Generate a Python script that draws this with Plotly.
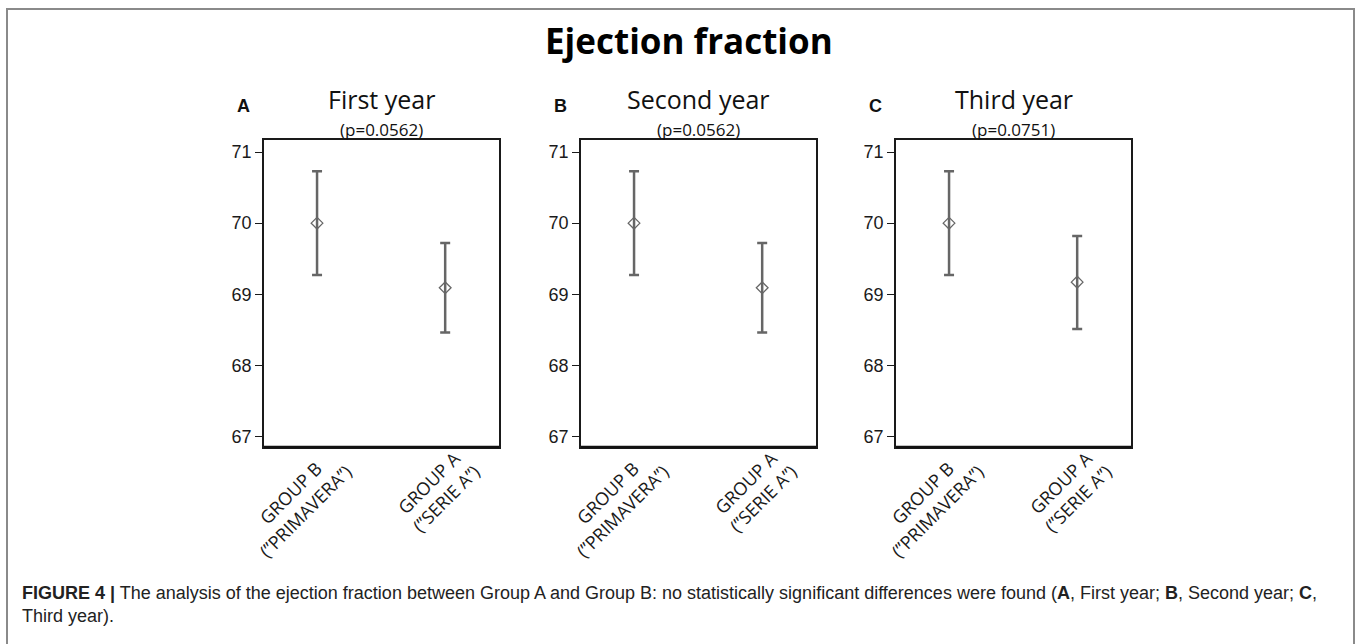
import plotly.graph_objects as go

W, H = 1357, 644

# ---- data ----
categories = ["GROUP B\u00a0\u00a0\u00a0\u00a0<br>(\u201dPRIMAVERA\u201d)", "GROUP A\u00a0<br>(\u201dSERIE A\u201d)"]
panel_letters = ["A", "B", "C"]
panel_titles = ["First year", "Second year", "Third year"]
p_values = ["(p=0.0562)", "(p=0.0562)", "(p=0.0751)"]
means = [[70.00, 69.09], [70.00, 69.09], [70.00, 69.17]]
ci_lower = [[69.27, 68.46], [69.27, 68.46], [69.27, 68.51]]
ci_upper = [[70.73, 69.72], [70.73, 69.72], [70.73, 69.82]]
y_ticks = [67, 68, 69, 70, 71]

main_title = "Ejection fraction"
caption_line1 = ("<b>FIGURE 4 |</b> The analysis of the ejection fraction between Group A and Group B: "
                 "no statistically significant differences were found (<b>A</b>, First year; "
                 "<b>B</b>, Second year; <b>C</b>,")
caption_line2 = "Third year)."

# ---- layout geometry (pixels) ----
panel_left = [264, 581, 896]
panel_w = 235
plot_top, plot_bottom = 140, 447


def px(x):
    return x / W


def py(y):
    return 1 - y / H


fig = go.Figure()
gray = "#666666"
annotations = []
shapes = []

for i in range(3):
    xa = "x" if i == 0 else f"x{i+1}"
    ya = "y" if i == 0 else f"y{i+1}"
    xs = [1, 2]
    up = [u - m for u, m in zip(ci_upper[i], means[i])]
    dn = [m - l for m, l in zip(means[i], ci_lower[i])]
    fig.add_trace(go.Scatter(
        x=xs, y=means[i], mode="markers", xaxis=xa, yaxis=ya, showlegend=False,
        marker=dict(symbol="diamond-open", size=9, color=gray, line=dict(width=1.3, color=gray)),
        error_y=dict(type="data", symmetric=False, array=up, arrayminus=dn,
                     color=gray, thickness=2.5, width=5),
    ))
    d0 = px(panel_left[i]); d1 = px(panel_left[i] + panel_w)
    axis_common = dict(showline=True, mirror=True, linecolor="#1a1a1a", linewidth=1.5,
                       showgrid=False, zeroline=False, automargin=False)
    fig.update_layout(**{
        ("xaxis" if i == 0 else f"xaxis{i+1}"): dict(
            domain=[d0, d1], range=[0.586, 2.42], tickvals=xs, ticktext=categories,
            tickangle=-45, ticks="", anchor=ya, ticklabelshift=13, ticklabelstandoff=-11,
            tickfont=dict(family="Open Sans", size=18, color="#1a1a1a"), **axis_common),
        ("yaxis" if i == 0 else f"yaxis{i+1}"): dict(
            domain=[py(plot_bottom), py(plot_top)], range=[66.85, 71.17], tickvals=y_ticks,
            ticks="outside", ticklen=7, tickwidth=1.3, tickcolor="#1a1a1a", anchor=xa,
            tickfont=dict(family="Liberation Sans", size=18, color="#1a1a1a"), **axis_common),
    })
    shapes.append(dict(type="line", xref=f"{xa} domain", yref=f"{ya} domain",
                       x0=0, x1=1, y0=0, y1=0, line=dict(color="#111", width=2.5)))
    cx = px(panel_left[i] + panel_w / 2)
    annotations.append(dict(x=cx, y=py(99), xref="paper", yref="paper", text=panel_titles[i],
                            showarrow=False, xanchor="center", yanchor="middle",
                            font=dict(family="Open Sans", size=25, color="#111")))
    annotations.append(dict(x=cx, y=py(129), xref="paper", yref="paper", text=p_values[i],
                            showarrow=False, xanchor="center", yanchor="middle",
                            font=dict(family="Open Sans", size=17, color="#111")))
    annotations.append(dict(x=px(panel_left[i] - 21), y=py(106), xref="paper", yref="paper",
                            text=f"<b>{panel_letters[i]}</b>", showarrow=False,
                            xanchor="center", yanchor="middle",
                            font=dict(family="Liberation Sans", size=18, color="#111")))

annotations.append(dict(x=px(689), y=py(41), xref="paper", yref="paper", text=f"<b>{main_title}</b>",
                        showarrow=False, xanchor="center", yanchor="middle",
                        font=dict(family="Open Sans", size=35, color="#000")))
annotations.append(dict(x=px(20), y=py(593), xref="paper", yref="paper", text=caption_line1,
                        showarrow=False, xanchor="left", yanchor="middle",
                        font=dict(family="Liberation Sans", size=18, color="#222")))
annotations.append(dict(x=px(20), y=py(616), xref="paper", yref="paper", text=caption_line2,
                        showarrow=False, xanchor="left", yanchor="middle",
                        font=dict(family="Liberation Sans", size=18, color="#222")))

shapes.append(dict(type="rect", xref="paper", yref="paper", x0=px(7), x1=px(1354), y0=py(660), y1=py(9),
                   line=dict(color="#8a8a8a", width=2)))

fig.update_layout(
    width=W, height=H, autosize=False, margin=dict(l=0, r=0, t=0, b=0, autoexpand=False),
    paper_bgcolor="white", plot_bgcolor="white", annotations=annotations, shapes=shapes,
)

fig.write_html("out.html", config={"displayModeBar": False},
               post_script="document.body.style.margin='0';document.body.style.overflow='hidden';")
